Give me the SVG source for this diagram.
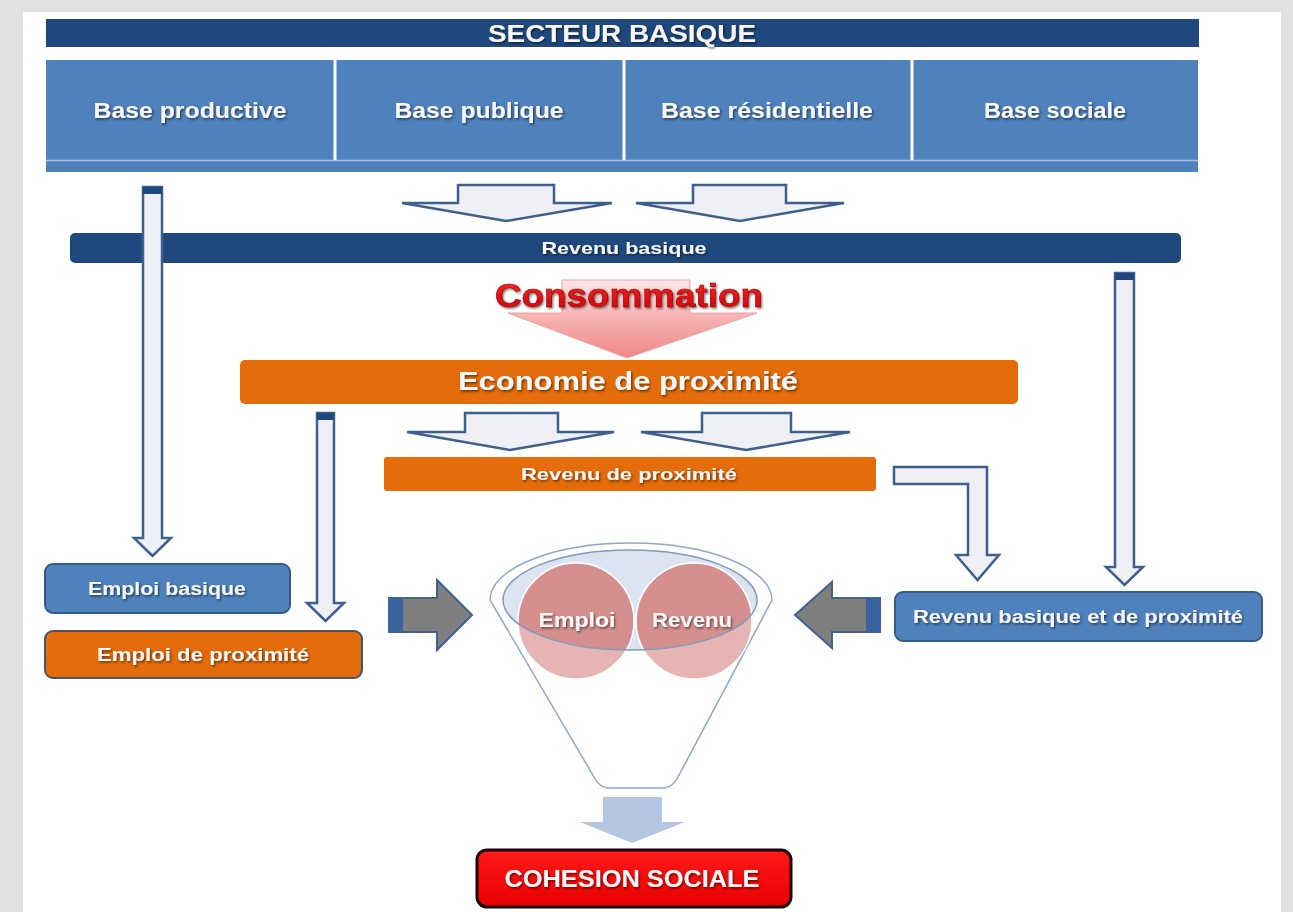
<svg xmlns="http://www.w3.org/2000/svg" width="1293" height="912" viewBox="0 0 1293 912">
<defs>
<style>
.t{font-family:"Liberation Sans",Arial,sans-serif;font-weight:bold;fill:#f7f7f7;text-anchor:middle;filter:url(#ts)}
.oa{fill:#eef0f5;stroke:#3f5f8c;stroke-width:2.5;stroke-linejoin:miter}
.cap{fill:#1f497d}
.ga{fill:#7f7f7f;stroke:#41618f;stroke-width:2;stroke-linejoin:miter}
.gcap{fill:#3a64a0}
.dk{fill:#1f497d}
.bl{fill:#4f81bd}
.or{fill:#e46c0a}
</style>
<filter id="ts" x="-10%" y="-40%" width="120%" height="180%">
<feDropShadow dx="1.2" dy="1.5" stdDeviation="0.8" flood-color="#000" flood-opacity="0.55"/>
</filter>
<linearGradient id="pink" x1="0" y1="0" x2="0" y2="1">
<stop offset="0" stop-color="#fde6e6"/>
<stop offset="0.45" stop-color="#f7b5b5"/>
<stop offset="1" stop-color="#ef8686"/>
</linearGradient>
<linearGradient id="red" x1="0" y1="0" x2="0" y2="1">
<stop offset="0" stop-color="#ff1a1a"/>
<stop offset="1" stop-color="#e80000"/>
</linearGradient>
<linearGradient id="redtxt" x1="0" y1="0" x2="0" y2="1">
<stop offset="0" stop-color="#ff2a2a"/>
<stop offset="1" stop-color="#c8000a"/>
</linearGradient>
<clipPath id="rim"><ellipse cx="630" cy="600" rx="127" ry="50"/></clipPath>
</defs>

<rect x="0" y="0" width="1293" height="912" fill="#e1e1e1"/>
<rect x="23" y="12" width="1258" height="900" fill="#ffffff"/>

<g id="secteur-basique">
<rect x="46" y="19" width="1153" height="28" class="dk"/>
<text class="t" x="622" y="42" font-size="24" textLength="268" lengthAdjust="spacingAndGlyphs">SECTEUR BASIQUE</text>
</g>

<g id="bases">
<rect x="46" y="60" width="1152" height="112" class="bl"/>
<line x1="46" y1="160.5" x2="1198" y2="160.5" stroke="#a9c3e6" stroke-width="1.5"/>
<line x1="335" y1="60" x2="335" y2="160" stroke="#ffffff" stroke-width="3"/>
<line x1="624" y1="60" x2="624" y2="160" stroke="#ffffff" stroke-width="3"/>
<line x1="912" y1="60" x2="912" y2="160" stroke="#ffffff" stroke-width="3"/>
</g>
<g id="base-productive"><text class="t" x="190" y="118" font-size="22" textLength="193" lengthAdjust="spacingAndGlyphs">Base productive</text></g>
<g id="base-publique"><text class="t" x="479" y="118" font-size="22" textLength="169" lengthAdjust="spacingAndGlyphs">Base publique</text></g>
<g id="base-residentielle"><text class="t" x="767" y="118" font-size="22" textLength="212" lengthAdjust="spacingAndGlyphs">Base résidentielle</text></g>
<g id="base-sociale"><text class="t" x="1055" y="118" font-size="22" textLength="142" lengthAdjust="spacingAndGlyphs">Base sociale</text></g>

<g id="revenu-basique">
<rect x="70" y="233" width="1111" height="30" rx="5" class="dk"/>
<text class="t" x="624" y="254" font-size="17" textLength="165" lengthAdjust="spacingAndGlyphs">Revenu basique</text>
</g>

<g id="consommation">
<polygon points="562,280 690,280 690,313 757,313 627,358 508,313 562,313" fill="url(#pink)" stroke="#eaa2a2" stroke-width="1"/>
<text x="629" y="307" font-family="'Liberation Sans',Arial,sans-serif" font-weight="bold" font-size="34" text-anchor="middle" textLength="268" lengthAdjust="spacingAndGlyphs" fill="url(#redtxt)" stroke="#9a0000" stroke-width="0.6" filter="url(#ts)">Consommation</text>
</g>

<g id="economie-de-proximite">
<rect x="240" y="360" width="778" height="44" rx="5" class="or"/>
<text class="t" x="628" y="390" font-size="25" textLength="340" lengthAdjust="spacingAndGlyphs">Economie de proximité</text>
</g>

<g id="revenu-de-proximite">
<rect x="384" y="457" width="492" height="34" rx="3" class="or"/>
<text class="t" x="629" y="480" font-size="17" textLength="216" lengthAdjust="spacingAndGlyphs">Revenu de proximité</text>
</g>

<g id="emploi-basique">
<rect x="45" y="564" width="245" height="49" rx="8" class="bl" stroke="#345a88" stroke-width="2"/>
<text class="t" x="167" y="595" font-size="18" textLength="158" lengthAdjust="spacingAndGlyphs">Emploi basique</text>
</g>

<g id="emploi-de-proximite">
<rect x="45" y="631" width="317" height="47" rx="8" class="or" stroke="#44546a" stroke-width="2"/>
<text class="t" x="203" y="661" font-size="18" textLength="212" lengthAdjust="spacingAndGlyphs">Emploi de proximité</text>
</g>

<g id="revenu-basique-et-de-proximite">
<rect x="895" y="592" width="367" height="49" rx="8" class="bl" stroke="#345a88" stroke-width="2"/>
<text class="t" x="1078" y="623" font-size="18" textLength="330" lengthAdjust="spacingAndGlyphs">Revenu basique et de proximité</text>
</g>

<g id="funnel">
<path d="M490,600 A141,57 0 0 1 772,600 L678,777 Q673,788 662,788 L610,788 Q599,788 594,777 Z" fill="#ffffff" stroke="#8fa8c8" stroke-width="1.5"/>
<ellipse cx="630" cy="600" rx="127" ry="50" fill="#dbe4f0"/>
<circle cx="576" cy="621" r="58" fill="#e7b4b5" stroke="#ffffff" stroke-width="1.5"/>
<circle cx="694" cy="621" r="58" fill="#e7b4b5" stroke="#ffffff" stroke-width="1.5"/>
<g clip-path="url(#rim)">
<circle cx="576" cy="621" r="58" fill="#d68f8f" stroke="#ffffff" stroke-width="1.5"/>
<circle cx="694" cy="621" r="58" fill="#d68f8f" stroke="#ffffff" stroke-width="1.5"/>
</g>
<ellipse cx="630" cy="600" rx="127" ry="50" fill="none" stroke="#7f9bbf" stroke-width="1.5"/>
</g>
<g id="emploi"><text class="t" x="577" y="627" font-size="21" textLength="77" lengthAdjust="spacingAndGlyphs">Emploi</text></g>
<g id="revenu"><text class="t" x="692" y="627" font-size="21" textLength="80" lengthAdjust="spacingAndGlyphs">Revenu</text></g>

<g id="cohesion-sociale">
<rect x="477" y="850" width="314" height="57" rx="10" fill="url(#red)" stroke="#1a0000" stroke-width="3"/>
<text class="t" x="632" y="887" font-size="24" textLength="255" lengthAdjust="spacingAndGlyphs">COHESION SOCIALE</text>
</g>

<g id="connectors">
<polygon class="oa" points="458,185 554,185 554,203 612,203 506,221 402,203 458,203"/>
<polygon class="oa" points="693,185 786,185 786,203 844,203 740,221 636,203 693,203"/>
<polygon class="oa" points="465,413 558,413 558,432 614,432 510,450 407,432 465,432"/>
<polygon class="oa" points="702,413 791,413 791,432 850,432 746,450 641,432 702,432"/>
<polygon class="oa" points="143,187 162,187 162,538 171,538 152.5,556 134,538 143,538"/>
<rect class="cap" x="143" y="187" width="19" height="7"/>
<polygon class="oa" points="317,413 334,413 334,603 344,603 325.5,621 307,603 317,603"/>
<rect class="cap" x="317" y="413" width="17" height="7"/>
<polygon class="oa" points="1115,273 1134,273 1134,567 1143,567 1124.5,585 1106,567 1115,567"/>
<rect class="cap" x="1115" y="273" width="19" height="7"/>
<polygon class="oa" points="894,467 987,467 987,555 999,555 977.5,580 956,555 968,555 968,484 894,484"/>
<polygon class="ga" points="389,598 437,598 437,580 472,615 437,650 437,632 389,632"/>
<rect class="gcap" x="389" y="598" width="14" height="34"/>
<polygon class="ga" points="880,598 832,598 832,582 795,615 832,648 832,632 880,632"/>
<rect class="gcap" x="866" y="598" width="14" height="34"/>
<polygon points="603,797 662,797 662,822 685,822 632,843 580,822 603,822" fill="#b4c6e1"/>
</g>
</svg>
